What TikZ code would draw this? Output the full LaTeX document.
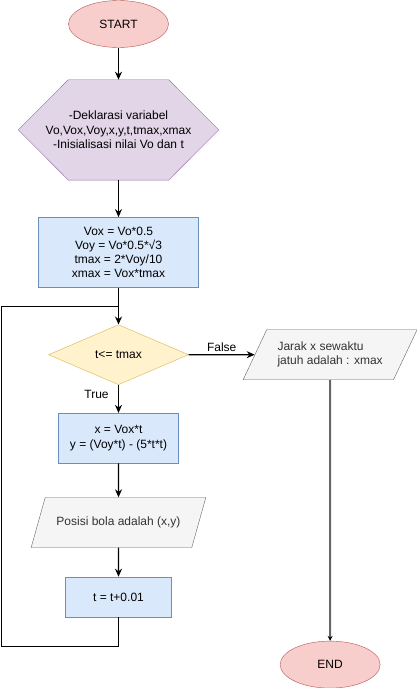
\documentclass[tikz,border=0pt]{standalone}
\usepackage{fontspec}
\setmainfont{Liberation Sans}
\usetikzlibrary{positioning,shapes.geometric,arrows.meta,backgrounds}
\definecolor{termfill}{HTML}{F8CECC}
\definecolor{termline}{HTML}{B85450}
\definecolor{prepfill}{HTML}{E1D5E7}
\definecolor{prepline}{HTML}{9673A6}
\definecolor{procfill}{HTML}{DAE8FC}
\definecolor{procline}{HTML}{6C8EBF}
\definecolor{condfill}{HTML}{FFF2CC}
\definecolor{condline}{HTML}{D6B656}
\definecolor{iofill}{HTML}{F5F5F5}
\definecolor{ioline}{HTML}{666666}
\definecolor{iotext}{HTML}{333333}
\tikzset{
term/.style={ellipse,draw=termline,fill=termfill,minimum width=100pt,minimum height=47pt,inner sep=0pt},
prep/.style={rectangle,minimum width=200pt,minimum height=100pt,align=center,inner sep=0pt},
prepbox/.style={draw=prepline,fill=prepfill},
proc/.style={rectangle,draw=procline,fill=procfill,align=center},
cond/.style={diamond,draw=condline,fill=condfill,minimum width=140pt,minimum height=60pt,inner sep=0pt},
io/.style={trapezium,trapezium stretches=true,draw=ioline,fill=iofill,text=iotext,minimum height=50pt},
flow/.style={line width=1.1pt},
}
\begin{document}
\begin{tikzpicture}[x=1pt,y=1pt,>={Stealth[length=8pt,width=7pt]},font=\fontsize{12}{14.2}\selectfont]
\useasboundingbox (0,0) rectangle (416,-688);
\node[term](start) at (118.5,-24){START};
\node[prep,below=32pt of start](decl){-Deklarasi variabel\\Vo,Vox,Voy,x,y,t,tmax,xmax\\-Inisialisasi nilai Vo dan t};
\node[proc,minimum width=160pt,minimum height=70pt,below=37pt of decl](calc){Vox = Vo*0.5\\Voy = Vo*0.5*√3\\tmax = 2*Voy/10\\xmax = Vox*tmax};
\node[cond,below=37pt of calc](check){t<= tmax};
\node[proc,minimum width=120pt,minimum height=50pt,below=28pt of check](pos){x = Vox*t\\y = (Voy*t) - (5*t*t)};
\node[io,trapezium left angle=55,trapezium right angle=125,minimum width=175pt,below=34pt of pos](show){Posisi bola adalah (x,y)};
\node[proc,minimum width=106pt,minimum height=40pt,below=29pt of show](inc){t = t+0.01};
\node[io,trapezium left angle=57,trapezium right angle=123,minimum width=174pt,align=left,right=66pt of check](out){Jarak x sewaktu\\jatuh adalah : xmax};
\node[term,below=261pt of out](end){END};
% hexagon behind the declaration text
\begin{scope}[on background layer]
\draw[prepbox](decl.west)--([xshift=50pt]decl.north west)--([xshift=-50pt]decl.north east)--(decl.east)--([xshift=-50pt]decl.south east)--([xshift=50pt]decl.south west)--cycle;
\end{scope}
\coordinate(join) at (118.5,-306.5);
\coordinate(loopB) at (1.5,-646.5);
\draw[flow,->](start)--(decl);
\draw[flow,->](decl)--(calc);
\draw[flow,->](calc)--(check);
\draw[flow,->](check)--node[above=-1pt]{False}(out);
\draw[flow,->](check)--node[pos=0.35,left=6pt]{True}(pos);
\draw[flow,->](pos)--(show);
\draw[flow,->](show)--(inc);
\draw[flow](inc)|-(loopB)|-(join);
\draw[draw=ioline,line width=2pt,-{Stealth[length=5pt,width=5pt,black]}](out)--(end);
\end{tikzpicture}
\end{document}
